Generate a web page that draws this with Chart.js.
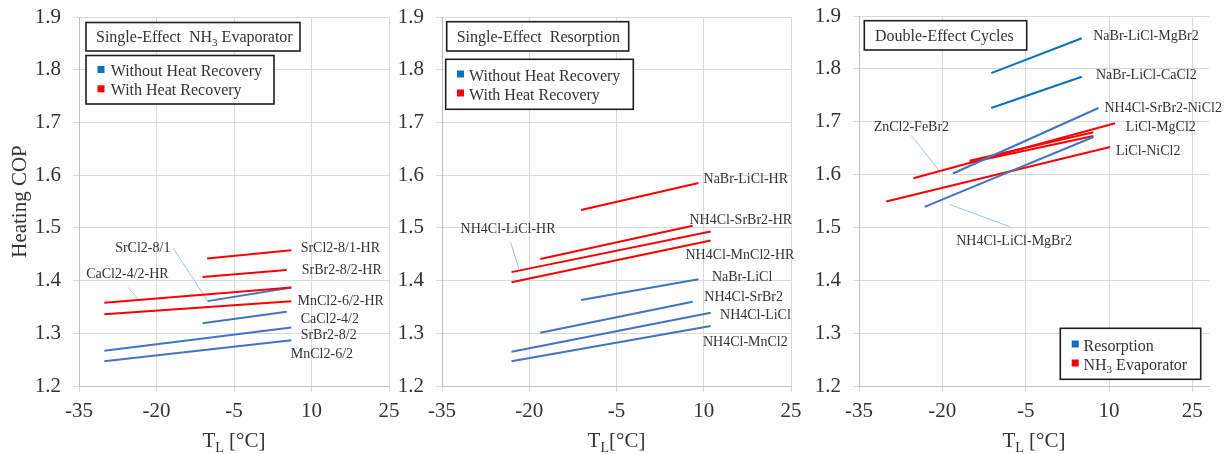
<!DOCTYPE html>
<html><head><meta charset="utf-8">
<script src="https://cdn.jsdelivr.net/npm/chart.js@4/dist/chart.umd.min.js"></script>
<style>
html,body{margin:0;padding:0;background:#fff;width:1231px;height:454px;overflow:hidden;position:relative}
canvas{position:absolute;top:0}
</style></head><body>
<canvas id="c1" width="410" height="454" style="left:0px;width:410px;height:454px"></canvas>
<canvas id="c2" width="420" height="454" style="left:395px;width:420px;height:454px"></canvas>
<canvas id="c3" width="426" height="454" style="left:805px;width:426px;height:454px"></canvas>
<script>
// ---------- shared ticks ----------
const X_TICKS = [-35, -20, -5, 10, 25];
const Y_TICKS = [1.2, 1.3, 1.4, 1.5, 1.6, 1.7, 1.8, 1.9];

// ---------- Panel 1: Single-Effect NH3 Evaporator ----------
const p1Series = ['SrCl2-8/1-HR','SrBr2-8/2-HR','CaCl2-4/2-HR','MnCl2-6/2-HR','SrCl2-8/1','CaCl2-4/2','SrBr2-8/2','MnCl2-6/2'];
const p1Kind   = ['red','red','red','red','blue','blue','blue','blue'];
const p1XStart = [-10.2, -11.1, -30.1, -30.1, -10.1, -11.1, -30.1, -30.1];
const p1XEnd   = [6.1, 5.2, 6.1, 6.1, 6.1, 5.2, 6.1, 6.1];
const p1YStart = [1.442, 1.407, 1.358, 1.336, 1.361, 1.319, 1.267, 1.247];
const p1YEnd   = [1.4575, 1.420, 1.387, 1.361, 1.387, 1.341, 1.311, 1.287];
const p1LabelX = [7.9, 8.1, -33.6, 7.3, -28.0, 7.9, 7.9, 6.0];
const p1LabelY = [1.462, 1.419, 1.411, 1.360, 1.461, 1.327, 1.297, 1.261];
const p1LeadX0 = [-16.8, -25.5];
const p1LeadY0 = [1.462, 1.387];
const p1LeadX1 = [-10.1, -23.7];
const p1LeadY1 = [1.361, 1.366];

// ---------- Panel 2: Single-Effect Resorption ----------
const p2Series = ['NaBr-LiCl-HR','NH4Cl-SrBr2-HR','NH4Cl-LiCl-HR','NH4Cl-MnCl2-HR','NaBr-LiCl','NH4Cl-SrBr2','NH4Cl-LiCl','NH4Cl-MnCl2'];
const p2Kind   = ['red','red','red','red','blue','blue','blue','blue'];
const p2XStart = [-11.1, -18.1, -23.05, -23.05, -11.1, -18.1, -23.05, -23.05];
const p2XEnd   = [9.1, 8.1, 11.2, 11.2, 9.1, 8.1, 11.2, 11.2];
const p2YStart = [1.534, 1.441, 1.416, 1.397, 1.363, 1.301, 1.265, 1.247];
const p2YEnd   = [1.585, 1.504, 1.493, 1.476, 1.4025, 1.360, 1.339, 1.314];
const p2LabelX = [9.96, 7.55, -31.8, 6.86, 11.4, 10.1, 12.8, 9.86];
const p2LabelY = [1.592, 1.515, 1.497, 1.448, 1.407, 1.368, 1.335, 1.283];
const p2LeadX0 = [-23.2];
const p2LeadY0 = [1.473];
const p2LeadX1 = [-21.8];
const p2LeadY1 = [1.423];

// ---------- Panel 3: Double-Effect Cycles ----------
const p3Series = ['NaBr-LiCl-MgBr2','NaBr-LiCl-CaCl2','NH4Cl-SrBr2-NiCl2','NH4Cl-LiCl-MgBr2','ZnCl2-FeBr2','LiCl-MgCl2','LiCl-MgCl2 (2)','LiCl-NiCl2'];
const p3Kind   = ['blue2','blue2','blue','blue','red','red','red','red'];
const p3XStart = [-11.2, -11.2, -18.1, -23.2, -25.2, -15.1, -15.1, -30.1];
const p3XEnd   = [5.1, 5.1, 8.1, 7.2, 11.1, 7.2, 7.2, 10.2];
const p3YStart = [1.792, 1.726, 1.602, 1.539, 1.593, 1.626, 1.623, 1.549];
const p3YEnd   = [1.858, 1.785, 1.726, 1.671, 1.697, 1.680, 1.673, 1.652];
const p3LabelText = ['NaBr-LiCl-MgBr2','NaBr-LiCl-CaCl2','NH4Cl-SrBr2-NiCl2','NH4Cl-LiCl-MgBr2','ZnCl2-FeBr2','LiCl-MgCl2','','LiCl-NiCl2'];
const p3LabelX = [7.16, 7.64, 9.19, -17.5, -32.36, 13.03, 0, 11.24];
const p3LabelY = [1.861, 1.788, 1.7256, 1.474, 1.690, 1.689, 0, 1.6435];
const p3LeadX0 = [-25.6, -18.7];
const p3LeadY0 = [1.674, 1.5435];
const p3LeadX1 = [-20.5, -7.34];
const p3LeadY1 = [1.6066, 1.4992];

// ---------- styles ----------
const FAM = "'Liberation Serif','Times New Roman',serif";
const COLORS = { red: '#FF0000', blue: '#4472C4', blue2: '#0A70C0' };
const LEADER = '#9DC3E6';
const TXT = '#333333';

function font(size){ return size + 'px ' + FAM; }

function drawRich(ctx, segs, x, y, size, align){
  let w = 0;
  segs.forEach(s => { ctx.font = font(s.sub ? Math.round(size*0.66) : size); s.w = ctx.measureText(s.t).width; w += s.w; });
  let cx = align === 'center' ? x - w/2 : x;
  ctx.textAlign = 'left';
  ctx.textBaseline = 'alphabetic';
  segs.forEach(s => {
    ctx.font = font(s.sub ? Math.round(size*0.66) : size);
    ctx.fillText(s.t, cx, s.sub ? y + size*0.22 : y);
    cx += s.w;
  });
}

const decor = {
  id: 'decor',
  afterDraw(chart, args, o){
    const ctx = chart.ctx, xs = chart.scales.x, ys = chart.scales.y, off = o.pageLeft;
    ctx.save();
    // series labels
    ctx.fillStyle = TXT;
    ctx.font = font(14);
    ctx.textAlign = 'left';
    ctx.textBaseline = 'middle';
    o.labelText.forEach((t, i) => {
      if (!t) return;
      ctx.fillText(t, xs.getPixelForValue(o.labelX[i]), ys.getPixelForValue(o.labelY[i]));
    });
    // boxes
    o.boxes.forEach(b => {
      ctx.fillStyle = '#fff';
      ctx.fillRect(b.x - off, b.y, b.w, b.h);
      ctx.strokeStyle = '#1e1e1e';
      ctx.lineWidth = 1.6;
      ctx.strokeRect(b.x - off, b.y, b.w, b.h);
      b.rows.forEach(r => {
        if (r.sq){
          ctx.fillStyle = r.sq;
          ctx.fillRect(r.sqx - off, r.base - 10, 7, 7);
        }
        ctx.fillStyle = TXT;
        drawRich(ctx, r.segs, r.tx - off, r.base, 16, 'left');
      });
    });
    // x axis title
    ctx.fillStyle = TXT;
    const ca = chart.chartArea;
    drawRich(ctx, o.xTitle, (ca.left + ca.right)/2, 447, 21, 'center');
    // y axis title
    if (o.yTitle){
      ctx.translate(26 - off, (ca.top + ca.bottom)/2);
      ctx.rotate(-Math.PI/2);
      ctx.font = font(21);
      ctx.textAlign = 'center';
      ctx.textBaseline = 'alphabetic';
      ctx.fillText(o.yTitle, 0, 0);
    }
    ctx.restore();
  }
};

function buildDatasets(kind, xs0, xs1, ys0, ys1, names, lx0, ly0, lx1, ly1){
  const ds = names.map((n, i) => ({
    label: n,
    data: [{x: xs0[i], y: ys0[i]}, {x: xs1[i], y: ys1[i]}],
    borderColor: COLORS[kind[i]],
    borderWidth: 2,
    pointRadius: 0,
    showLine: true,
    tension: 0
  }));
  lx0.forEach((v, i) => ds.push({
    label: 'leader' + i,
    data: [{x: lx0[i], y: ly0[i]}, {x: lx1[i], y: ly1[i]}],
    borderColor: LEADER,
    borderWidth: 1,
    pointRadius: 0,
    showLine: true
  }));
  return ds;
}

function makeChart(id, cfg){
  const tickFont = {family: FAM, size: 21};
  return new Chart(document.getElementById(id), {
    type: 'scatter',
    data: { datasets: cfg.datasets },
    options: {
      responsive: false,
      animation: false,
      devicePixelRatio: 1,
      layout: { padding: { left: 0, top: cfg.top, right: cfg.right, bottom: 0 } },
      plugins: {
        legend: { display: false },
        tooltip: { enabled: false },
        decor: cfg.decor
      },
      scales: {
        x: {
          type: 'linear', min: -35, max: cfg.xmax,
          afterBuildTicks: s => { s.ticks = X_TICKS.map(v => ({value: v})); },
          ticks: { font: tickFont, color: TXT, padding: 7, maxRotation: 0, minRotation: 0, autoSkip: false, callback: v => String(v) },
          grid: { color: '#D9D9D9', tickLength: 6, drawTicks: true, lineWidth: 1 },
          border: { color: '#BFBFBF', width: 1 },
          afterFit: s => { s.height = 68; s.paddingLeft = 0; s.paddingRight = 0; }
        },
        y: {
          type: 'linear', min: 1.2, max: 1.9,
          afterBuildTicks: s => { s.ticks = Y_TICKS.map(v => ({value: v})); },
          ticks: { font: tickFont, color: TXT, padding: 12, autoSkip: false, callback: v => Number(v).toFixed(1) },
          grid: { color: '#D9D9D9', tickLength: 6, drawTicks: true, lineWidth: 1 },
          border: { color: '#BFBFBF', width: 1 },
          afterFit: s => { s.width = cfg.yWidth; s.paddingTop = 0; s.paddingBottom = 0; }
        }
      }
    },
    plugins: [decor]
  });
}

const TL = () => [{t:'T'},{t:'L',sub:true},{t:' [°C]'}];

// Panel 1
makeChart('c1', {
  datasets: buildDatasets(p1Kind, p1XStart, p1XEnd, p1YStart, p1YEnd, p1Series, p1LeadX0, p1LeadY0, p1LeadX1, p1LeadY1),
  top: 17, right: 21, yWidth: 79, xmax: 25,
  decor: {
    pageLeft: 0,
    labelText: p1Series, labelX: p1LabelX, labelY: p1LabelY,
    xTitle: TL(), yTitle: 'Heating COP',
    boxes: [
      { x: 86, y: 22.5, w: 214, h: 28.5, rows: [ { tx: 96, base: 42.3, segs: [{t:'Single-Effect  NH'},{t:'3',sub:true},{t:' Evaporator'}] } ] },
      { x: 86, y: 55.5, w: 188, h: 48.5, rows: [
        { sq: '#0A70C0', sqx: 97.5, tx: 110.7, base: 76, segs: [{t:'Without Heat Recovery'}] },
        { sq: '#FF0000', sqx: 97.5, tx: 110.7, base: 95.3, segs: [{t:'With Heat Recovery'}] } ] }
    ]
  }
});

// Panel 2
makeChart('c2', {
  datasets: buildDatasets(p2Kind, p2XStart, p2XEnd, p2YStart, p2YEnd, p2Series, p2LeadX0, p2LeadY0, p2LeadX1, p2LeadY1),
  top: 17, right: 24, yWidth: 47, xmax: 25,
  decor: {
    pageLeft: 395,
    labelText: p2Series, labelX: p2LabelX, labelY: p2LabelY,
    xTitle: [{t:'T'},{t:'L',sub:true},{t:'[°C]'}], yTitle: null,
    boxes: [
      { x: 446.7, y: 21.7, w: 182, h: 29.3, rows: [ { tx: 456.7, base: 41.5, segs: [{t:'Single-Effect  Resorption'}] } ] },
      { x: 445.7, y: 59.3, w: 187.6, h: 50, rows: [
        { sq: '#0A70C0', sqx: 457, tx: 469, base: 80.5, segs: [{t:'Without Heat Recovery'}] },
        { sq: '#FF0000', sqx: 457, tx: 469, base: 99.5, segs: [{t:'With Heat Recovery'}] } ] }
    ]
  }
});

// Panel 3
makeChart('c3', {
  datasets: buildDatasets(p3Kind, p3XStart, p3XEnd, p3YStart, p3YEnd, p3Series, p3LeadX0, p3LeadY0, p3LeadX1, p3LeadY1),
  top: 16, right: 22, yWidth: 54, xmax: 28,
  decor: {
    pageLeft: 805,
    labelText: p3LabelText, labelX: p3LabelX, labelY: p3LabelY,
    xTitle: TL(), yTitle: null,
    boxes: [
      { x: 864.3, y: 20.7, w: 162.4, h: 29.3, rows: [ { tx: 875, base: 40.5, segs: [{t:'Double-Effect Cycles'}] } ] },
      { x: 1060.3, y: 328.3, w: 140.4, h: 51, rows: [
        { sq: '#0A70C0', sqx: 1071.7, tx: 1083.5, base: 350.5, segs: [{t:'Resorption'}] },
        { sq: '#FF0000', sqx: 1071.7, tx: 1083.5, base: 369.5, segs: [{t:'NH'},{t:'3',sub:true},{t:' Evaporator'}] } ] }
    ]
  }
});
</script>
</body></html>
